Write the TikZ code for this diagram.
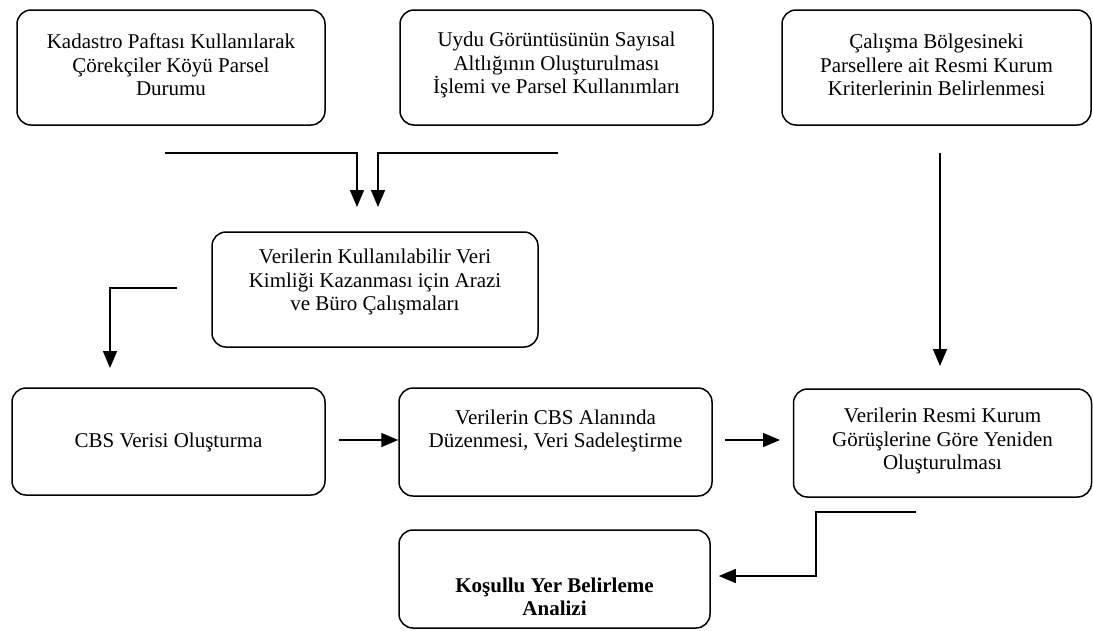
\documentclass[tikz,border=0pt]{standalone}
\usepackage{fontspec}
\setmainfont{Liberation Serif}
\usepackage{tikz}
\usetikzlibrary{arrows.meta}

\begin{document}
\begin{tikzpicture}
        [x=1pt,y=-1pt,
        box/.style={draw,line width=1.5pt,rounded corners=14pt},
        txt/.style={align=center,font=\fontsize{21}{23.5}\selectfont},
        arr/.style={line width=1.5pt,-{Triangle[length=17pt,width=14pt]}}]
        \useasboundingbox (0,0) rectangle (1093,630);
        % top row
        \node[box,minimum width=308pt,minimum height=115pt] (kad) at (171,67.5) {};
        \node[txt] (kadT) at (171,65) {Kadastro Paftası Kullanılarak\\Çörekçiler Köyü Parsel\\Durumu};
        \node[box,minimum width=313pt,minimum height=115pt] (uydu) at (556.5,67.5) {};
        \node[txt] (uyduT) at (556.5,65) {Uydu Görüntüsünün Sayısal\\Altlığının Oluşturulması\\İşlemi ve Parsel Kullanımları};
        \node[box,minimum width=309pt,minimum height=115pt] (calis) at (936.5,67.5) {};
        \node[txt] (calisT) at (936.5,65) {Çalışma Bölgesineki\\Parsellere ait Resmi Kurum\\Kriterlerinin Belirlenmesi};
        % middle
        \node[box,minimum width=326pt,minimum height=115pt] (veri) at (375,289.5) {};
        \node[txt] (veriT) at (375,282) {Verilerin Kullanılabilir Veri\\Kimliği Kazanması için Arazi\\ve Büro Çalışmaları};
        % third row
        \node[box,minimum width=313pt,minimum height=107pt] (cbs) at (168.5,441.5) {};
        \node[txt] (cbsT) at (168.5,442) {CBS Verisi Oluşturma};
        \node[box,minimum width=313pt,minimum height=108pt] (duz) at (555.5,442) {};
        \node[txt] (duzT) at (555.5,431) {Verilerin CBS Alanında\\Düzenmesi, Veri Sadeleştirme};
        \node[box,minimum width=298pt,minimum height=108pt] (resmi) at (942.5,443) {};
        \node[txt] (resmiT) at (942.5,441) {Verilerin Resmi Kurum\\Görüşlerine Göre Yeniden\\Oluşturulması};
        % bottom
        \node[box,minimum width=311pt,minimum height=98pt] (kos) at (554.5,579) {};
        \node[txt,font=\fontsize{21}{23.5}\selectfont\bfseries] (kosT) at (554.5,597) {Koşullu Yer Belirleme\\Analizi};

        \coordinate (p1) at (165,153);
        \coordinate (p2) at (357,207);
        \coordinate (q1) at (558,153);
        \coordinate (q2) at (378,207);
        \coordinate (r1) at (177,288);
        \coordinate (r2) at (110,368);
        \coordinate (s1) at (940,153);
        \coordinate (s2) at (940,366);
        \coordinate (t1) at (339,440);
        \coordinate (u1) at (725,440);
        \coordinate (u2) at (780,440);
        \coordinate (v1) at (916,512);
        \coordinate (v2) at (816,576);

        \draw[arr] (p1) -| (p2);
        \draw[arr] (q1) -| (q2);
        \draw[arr] (r1) -| (r2);
        \draw[arr] (s1) -- (s2);
        \draw[arr] (t1) -- (t1 -| duz.west);
        \draw[arr] (u1) -- (u2);
        \draw[arr] (v1) -| (v2) -- ([xshift=8pt]v2 -| kos.east);
    \end{tikzpicture}
\end{document}
